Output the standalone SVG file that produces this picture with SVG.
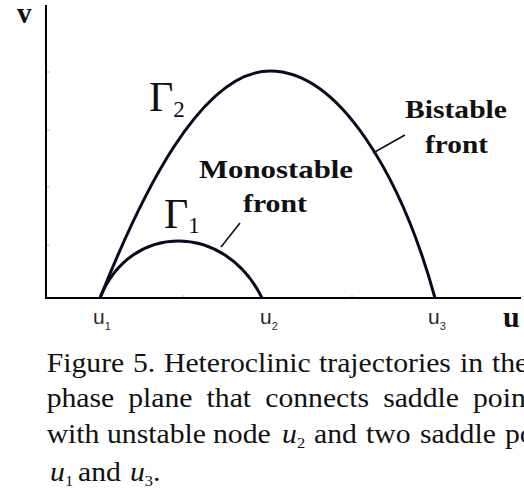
<svg xmlns="http://www.w3.org/2000/svg" width="524" height="495" viewBox="0 0 524 495">
<style>
.axis{stroke:#000;stroke-width:2;fill:none}
.tick{stroke:#bbb;stroke-width:1}
.curve{stroke:#0a0a1e;stroke-width:3;fill:none}
.lead{stroke:#111;stroke-width:1.6}
.bl{font-family:"Liberation Serif",serif;font-weight:bold;fill:#111}
.ser{font-family:"Liberation Serif",serif;fill:#111}
.sans{font-family:"Liberation Sans",Arial,sans-serif;fill:#2a2a2a}
.cap{font-family:"Liberation Serif",serif;font-size:27px;fill:#111}
.it{font-style:italic}
</style>
<g id="axes">
<line class="axis" x1="46" y1="5" x2="46" y2="299"/>
<line class="axis" x1="45" y1="298" x2="521" y2="298"/>
<line class="tick" x1="47" y1="72" x2="50" y2="72"/>
<line class="tick" x1="47" y1="130" x2="50" y2="130"/>
<line class="tick" x1="47" y1="187" x2="50" y2="187"/>
<line class="tick" x1="47" y1="245" x2="50" y2="245"/>
<line class="tick" x1="183" y1="295" x2="183" y2="297"/>
<line class="tick" x1="352" y1="295" x2="352" y2="297"/>
<text class="bl" x="17" y="23" font-size="29">v</text>
<text class="bl" x="503" y="327" font-size="30">u</text>
</g>
<g id="u1"><text class="sans" x="93" y="324" font-size="21">u<tspan font-size="11" dy="6">1</tspan></text></g>
<g id="u2"><text class="sans" x="260" y="324" font-size="21">u<tspan font-size="11" dy="6">2</tspan></text></g>
<g id="u3"><text class="sans" x="428" y="324" font-size="21">u<tspan font-size="11" dy="6">3</tspan></text></g>
<g id="connectors">
<path id="gamma2" class="curve" d="M100,298 C140,198 200,71 270,71 C340,71 402,178 435,298"/>
<path id="gamma1" class="curve" d="M100,298 C130,222 225,222 262,298"/>
<line class="lead" x1="405" y1="135" x2="373" y2="153"/>
<line class="lead" x1="240" y1="223" x2="221" y2="247"/>
</g>
<g id="label-gamma2"><text class="ser" x="149" y="111" font-size="42">Γ<tspan font-size="23" dy="6">2</tspan></text></g>
<g id="label-gamma1"><text class="ser" x="164" y="228" font-size="42">Γ<tspan font-size="23" dy="5">1</tspan></text></g>
<g id="label-mono">
<text class="bl" x="199" y="178" font-size="26" textLength="154" lengthAdjust="spacingAndGlyphs">Monostable</text>
<text class="bl" x="243" y="212" font-size="26" textLength="64" lengthAdjust="spacingAndGlyphs">front</text>
</g>
<g id="label-bi">
<text class="bl" x="405" y="118" font-size="26" textLength="102" lengthAdjust="spacingAndGlyphs">Bistable</text>
<text class="bl" x="425" y="153" font-size="26" textLength="63" lengthAdjust="spacingAndGlyphs">front</text>
</g>
<g id="caption" transform="scale(1.1,1)">
<text class="cap" y="372"><tspan x="42.45">Figure</tspan><tspan x="120.9">5.</tspan><tspan x="149.1">Heteroclinic</tspan><tspan x="290">trajectories</tspan><tspan x="418.2">in</tspan><tspan x="447.3">the</tspan></text>
<text class="cap" y="407"><tspan x="42.45">phase</tspan><tspan x="116.6">plane</tspan><tspan x="187.8">that</tspan><tspan x="241.1">connects</tspan><tspan x="348.3">saddle</tspan><tspan x="430">poin</tspan></text>
<text class="cap" y="443"><tspan x="42.45">with</tspan><tspan x="97.3">unstable</tspan><tspan x="193.6">node</tspan><tspan x="256.4" class="it">u</tspan><tspan font-size="15" dy="5">2</tspan><tspan x="285.5" dy="-5">and</tspan><tspan x="332.7">two</tspan><tspan x="381.8">saddle</tspan><tspan x="459.1">po</tspan></text>
<text class="cap" y="481"><tspan x="45.5" class="it">u</tspan><tspan font-size="15" dy="5">1</tspan><tspan x="70.9" dy="-5">and</tspan><tspan x="118.2" class="it">u</tspan><tspan font-size="15" dy="5">3</tspan><tspan dy="-5">.</tspan></text>
</g>
</svg>
